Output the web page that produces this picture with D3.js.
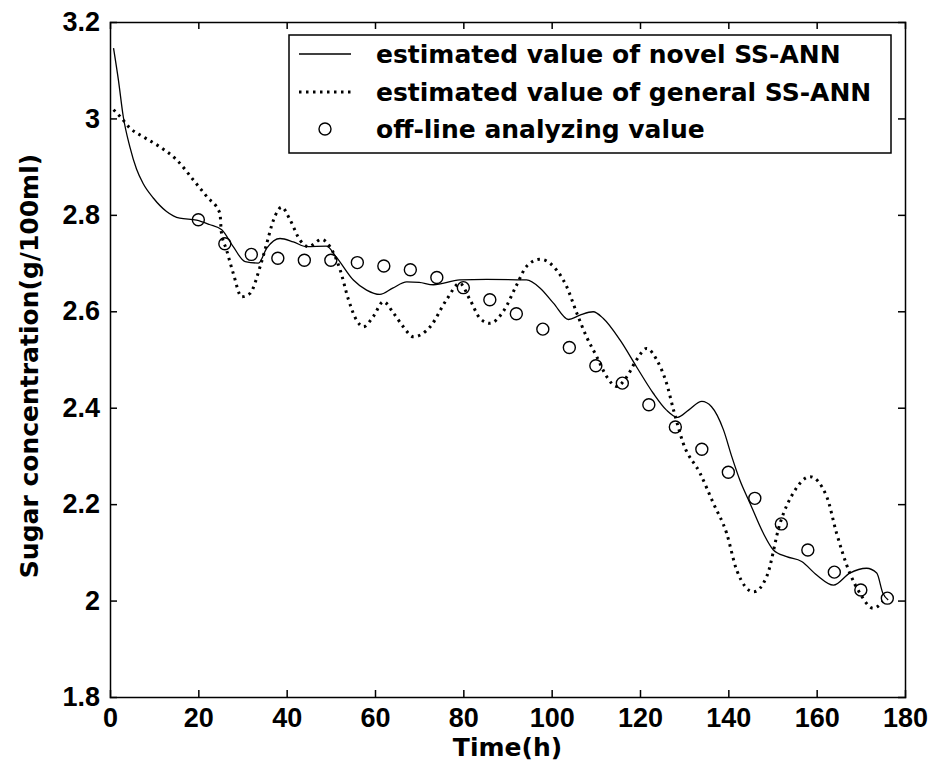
<!DOCTYPE html>
<html>
<head>
<meta charset="utf-8">
<script src="https://cdn.jsdelivr.net/npm/d3@7"></script>
<style>
  body { margin: 0; background: #fff; }
  svg text { font-family: "DejaVu Sans", sans-serif; font-weight: bold; fill: #000; }
  svg .axis text { font-family: "Liberation Sans", Arial, sans-serif; }
</style>
</head>
<body>
<div id="chart"></div>
<script>
// off-line analysing samples
const sampleTime = [20, 26, 32, 38, 44, 50, 56, 62, 68, 74, 80, 86, 92, 98, 104, 110, 116, 122, 128, 134, 140, 146, 152, 158, 164, 170, 176];
const sampleValue = [2.79, 2.74, 2.718, 2.71, 2.706, 2.706, 2.701, 2.694, 2.686, 2.67, 2.649, 2.624, 2.595, 2.563, 2.525, 2.487, 2.451, 2.406, 2.36, 2.314, 2.266, 2.212, 2.159, 2.105, 2.059, 2.022, 2.005];

// novel SS-ANN estimate
const novelTime = [0.8, 1.9, 3.0, 4.5, 6.0, 7.5, 9.8, 12.8, 15.8, 19.6, 22.5, 25.3, 27.9, 30.6, 33.6, 35.5, 38.5, 41.5, 44.5, 49.0, 51.2, 55.1, 58.1, 61.1, 64.0, 67.2, 70.0, 73.2, 79.2, 85.3, 94.3, 97.4, 100.4, 103.8, 106.4, 109.4, 111.7, 115.5, 119.2, 123.0, 126.0, 128.5, 131.0, 134.0, 136.2, 138.9, 140.8, 142.6, 144.9, 147.9, 150.2, 153.2, 156.6, 160.0, 163.8, 167.5, 171.3, 173.6, 175.0, 176.2];
const novelValue = [3.146, 3.08, 3.004, 2.941, 2.895, 2.865, 2.835, 2.807, 2.793, 2.789, 2.78, 2.769, 2.734, 2.703, 2.7, 2.731, 2.751, 2.744, 2.734, 2.735, 2.713, 2.665, 2.644, 2.635, 2.648, 2.661, 2.66, 2.655, 2.665, 2.666, 2.665, 2.648, 2.617, 2.583, 2.592, 2.599, 2.585, 2.54, 2.485, 2.43, 2.395, 2.38, 2.395, 2.413, 2.402, 2.354, 2.298, 2.25, 2.202, 2.14, 2.105, 2.091, 2.081, 2.053, 2.032, 2.057, 2.067, 2.057, 2.015, 2.001];

// general SS-ANN estimate
const generalTime = [0.8, 2.3, 4.5, 7.5, 11.3, 15.1, 18.9, 21.9, 24.9, 25.2, 26.4, 27.9, 29.8, 31.7, 34.0, 35.5, 37.0, 38.9, 40.8, 43.0, 44.9, 47.9, 49.8, 52.1, 54.0, 55.8, 57.4, 59.6, 61.9, 64.2, 66.4, 68.7, 72.5, 76.2, 79.2, 81.5, 83.8, 86.0, 89.0, 92.1, 94.3, 97.4, 100.4, 103.4, 105.7, 107.9, 110.2, 112.5, 114.7, 117.0, 119.2, 121.5, 123.8, 126.0, 127.8, 129.8, 133.6, 136.6, 139.6, 141.9, 145.7, 148.7, 151.7, 154.7, 158.5, 162.3, 164.5, 167.5, 169.8, 172.8, 175.0];
const generalValue = [3.018, 3.004, 2.98, 2.962, 2.941, 2.914, 2.872, 2.838, 2.803, 2.765, 2.727, 2.679, 2.63, 2.637, 2.693, 2.741, 2.789, 2.816, 2.789, 2.748, 2.734, 2.749, 2.734, 2.686, 2.624, 2.582, 2.568, 2.589, 2.62, 2.596, 2.568, 2.547, 2.568, 2.624, 2.658, 2.624, 2.585, 2.575, 2.599, 2.655, 2.693, 2.708, 2.693, 2.651, 2.596, 2.547, 2.506, 2.464, 2.444, 2.464, 2.499, 2.523, 2.499, 2.451, 2.388, 2.326, 2.264, 2.202, 2.14, 2.063, 2.018, 2.05, 2.16, 2.223, 2.257, 2.215, 2.14, 2.057, 2.015, 1.984, 1.998];

const xTicks = [0, 20, 40, 60, 80, 100, 120, 140, 160, 180];
const yTicks = [1.8, 2, 2.2, 2.4, 2.6, 2.8, 3, 3.2];
const legendLabels = ["estimated value of novel SS-ANN", "estimated value of general SS-ANN", "off-line analyzing value"];

const width = 932, height = 774;
const margin = { top: 22, right: 27, bottom: 77, left: 110 };
const iw = width - margin.left - margin.right;
const ih = height - margin.top - margin.bottom;

const svg = d3.select("#chart").append("svg")
  .attr("width", width).attr("height", height);

const g = svg.append("g").attr("transform", `translate(${margin.left},${margin.top})`);

const x = d3.scaleLinear().domain([0, 180]).range([0, iw]);
const y = d3.scaleLinear().domain([1.8, 3.2]).range([ih, 0]);

const tickLen = 7;
const fmtY = d => String(+d.toFixed(1));

// axes: ticks point inward, mirrored on top / right
g.append("g").attr("class", "axis")
  .attr("transform", `translate(0,${ih})`)
  .call(d3.axisBottom(x).tickValues(xTicks).tickSize(-tickLen).tickPadding(11).tickFormat(d3.format("d")));
g.append("g").attr("class", "axis")
  .call(d3.axisTop(x).tickValues(xTicks).tickSize(-tickLen).tickFormat(""));
g.append("g").attr("class", "axis")
  .call(d3.axisLeft(y).tickValues(yTicks).tickSize(-tickLen).tickPadding(10).tickFormat(fmtY));
g.append("g").attr("class", "axis")
  .attr("transform", `translate(${iw},0)`)
  .call(d3.axisRight(y).tickValues(yTicks).tickSize(-tickLen).tickFormat(""));

g.selectAll(".axis path").attr("stroke", "#000").attr("stroke-width", 1.5);
g.selectAll(".axis line").attr("stroke", "#000").attr("stroke-width", 1.5);
g.selectAll(".axis text").attr("font-size", 27).attr("font-family", null);
g.selectAll(".axis .tick").filter(d => d === 0 || d === 180 || d === 1.8 || d === 3.2).select("line").remove();

const line = d3.line().x(d => x(d[0])).y(d => y(d[1])).curve(d3.curveMonotoneX);

g.append("path")
  .datum(generalTime.map((t, i) => [t, generalValue[i]]))
  .attr("fill", "none").attr("stroke", "#000")
  .attr("stroke-width", 3).attr("stroke-dasharray", "2.5,4.5")
  .attr("d", line);

g.append("path")
  .datum(novelTime.map((t, i) => [t, novelValue[i]]))
  .attr("fill", "none").attr("stroke", "#000").attr("stroke-width", 1.3)
  .attr("d", line);

g.selectAll("circle.sample")
  .data(sampleTime.map((t, i) => [t, sampleValue[i]]))
  .join("circle").attr("class", "sample")
  .attr("cx", d => x(d[0])).attr("cy", d => y(d[1])).attr("r", 6)
  .attr("fill", "none").attr("stroke", "#000").attr("stroke-width", 1.4);

// legend
const lg = svg.append("g").attr("transform", "translate(289,35)");
lg.append("rect").attr("width", 602).attr("height", 118)
  .attr("fill", "#fff").attr("stroke", "#000").attr("stroke-width", 1.5);
const rowY = [19, 57, 94];
lg.selectAll("text").data(legendLabels).join("text")
  .attr("x", 87).attr("y", (d, i) => rowY[i]).attr("dy", "0.36em")
  .attr("font-size", 25).text(d => d);
lg.append("line").attr("x1", 10).attr("x2", 62).attr("y1", rowY[0]).attr("y2", rowY[0])
  .attr("stroke", "#000").attr("stroke-width", 1.3);
lg.append("line").attr("x1", 10).attr("x2", 62).attr("y1", rowY[1]).attr("y2", rowY[1])
  .attr("stroke", "#000").attr("stroke-width", 3).attr("stroke-dasharray", "2.5,4.5");
lg.append("circle").attr("cx", 36).attr("cy", rowY[2]).attr("r", 6)
  .attr("fill", "none").attr("stroke", "#000").attr("stroke-width", 1.4);

// axis titles
svg.append("text").attr("x", margin.left + iw / 2).attr("y", 756)
  .attr("text-anchor", "middle").attr("font-size", 25).text("Time(h)");
svg.append("text").attr("transform", `translate(38,366) rotate(-90)`)
  .attr("text-anchor", "middle").attr("font-size", 25).text("Sugar concentration(g/100ml)");
</script>
</body>
</html>
